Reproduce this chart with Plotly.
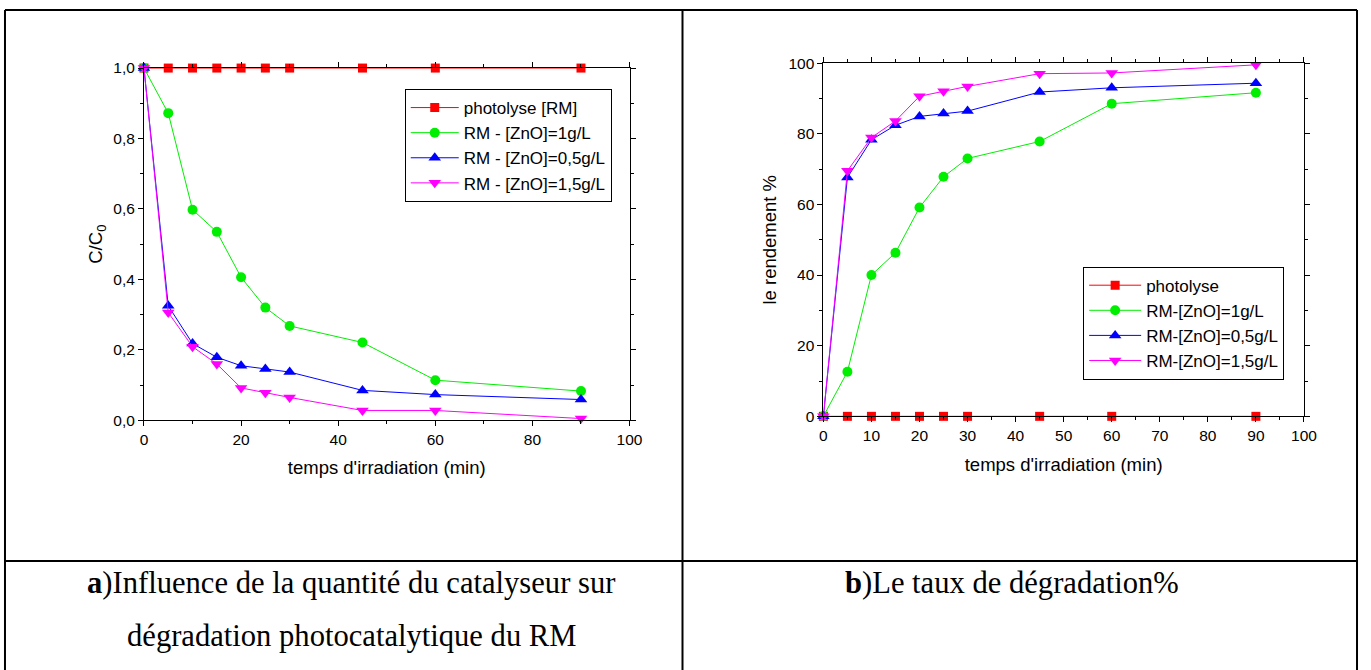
import plotly.graph_objects as go

# Irradiation time (min)
temps = [0, 5, 10, 15, 20, 25, 30, 45, 60, 90]

# (a) C/C0 versus time
cc0_photolyse = [1.0, 1.0, 1.0, 1.0, 1.0, 1.0, 1.0, 1.0, 1.0, 1.0]
cc0_zno_1 = [1.0, 0.872, 0.598, 0.535, 0.406, 0.320, 0.268, 0.221, 0.114, 0.083]
cc0_zno_05 = [1.0, 0.325, 0.218, 0.179, 0.155, 0.146, 0.137, 0.085, 0.073, 0.059]
cc0_zno_15 = [1.0, 0.306, 0.209, 0.160, 0.092, 0.078, 0.065, 0.028, 0.028, 0.005]

# (b) degradation yield (%) versus time
rend_photolyse = [0, 0, 0, 0, 0, 0, 0, 0, 0, 0]
rend_zno_1 = [0, 12.6, 40.0, 46.3, 59.1, 67.8, 73.0, 77.8, 88.5, 91.6]
rend_zno_05 = [0, 67.6, 78.3, 82.4, 84.9, 85.7, 86.4, 91.8, 93.0, 94.3]
rend_zno_15 = [0, 69.5, 78.9, 83.6, 90.6, 92.0, 93.4, 97.0, 97.2, 99.5]

names_a = ["photolyse [RM]", "RM - [ZnO]=1g/L", "RM - [ZnO]=0,5g/L", "RM - [ZnO]=1,5g/L"]
names_b = ["photolyse", "RM-[ZnO]=1g/L", "RM-[ZnO]=0,5g/L", "RM-[ZnO]=1,5g/L"]

colors = ["#ff0000", "#00ee00", "#0000ff", "#ff00ff"]
symbols = ["square", "circle", "triangle-up", "triangle-down"]
msizes = [9, 10, 11, 11]

# The page keeps the browser's 8px body margin around the figure and the
# whole page is fitted into the window, so layout positions are expressed
# in window pixels and converted to figure (paper) coordinates here.
W, H, BODY = 1371, 670, 8
PAGE_W, PAGE_H = W + 2 * BODY, H + 2 * BODY
FONT = "Liberation Sans, Arial, sans-serif"
SERIF = "Liberation Serif, Times New Roman, serif"


def fig_x(x):
    return min(max(x * PAGE_W / W - BODY, 1), W - 1)


def fig_y(y):
    return min(max(y * PAGE_H / H - BODY, 1), H + 10)


def px(x):
    return fig_x(x) / W


def py(y):
    return 1 - fig_y(y) / H


fig = go.Figure()

series_a = [cc0_photolyse, cc0_zno_1, cc0_zno_05, cc0_zno_15]
series_b = [rend_photolyse, rend_zno_1, rend_zno_05, rend_zno_15]

for i in range(4):
    fig.add_trace(go.Scatter(
        x=temps, y=series_a[i], name=names_a[i], mode="lines+markers",
        line=dict(color=colors[i], width=1),
        marker=dict(symbol=symbols[i], size=msizes[i], color=colors[i]),
        xaxis="x", yaxis="y", legend="legend", cliponaxis=False,
    ))
for i in range(4):
    fig.add_trace(go.Scatter(
        x=temps, y=series_b[i], name=names_b[i], mode="lines+markers",
        line=dict(color=colors[i], width=1),
        marker=dict(symbol=symbols[i], size=msizes[i], color=colors[i]),
        xaxis="x2", yaxis="y2", legend="legend2", cliponaxis=False,
    ))

axis_common = dict(
    showline=True, linecolor="black", linewidth=1, mirror="ticks",
    ticks="outside", ticklen=5, tickcolor="black", tickwidth=1,
    showgrid=False, zeroline=False,
    tickfont=dict(family=FONT, size=15.5, color="black"),
)
title_font = dict(family=FONT, size=18.5, color="black")
legend_font = dict(family=FONT, size=17, color="black")

fig.update_layout(
    width=W, height=H,
    margin=dict(l=0, r=0, t=0, b=0),
    paper_bgcolor="white", plot_bgcolor="white",
    separators=", ",
    showlegend=True,
    xaxis=dict(axis_common, domain=[px(148), px(634)], range=[0, 100], dtick=20,
               minor=dict(dtick=10, ticks="outside", ticklen=3, tickcolor="black"),
               anchor="y",
               title=dict(text="temps d'irradiation (min)", standoff=14, font=title_font)),
    yaxis=dict(axis_common, domain=[py(420), py(67)], range=[0, 1], dtick=0.2,
               tickformat=".1f", anchor="x",
               minor=dict(dtick=0.1, ticks="outside", ticklen=3, tickcolor="black"),
               title=dict(text="C/C<sub>0</sub>", standoff=5, font=title_font)),
    xaxis2=dict(axis_common, domain=[px(828), px(1309)], range=[0, 100], dtick=10,
                minor=dict(dtick=5, ticks="outside", ticklen=3, tickcolor="black"),
                anchor="y2",
                title=dict(text="temps d'irradiation (min)", standoff=15, font=title_font)),
    yaxis2=dict(axis_common, domain=[py(416), py(62)], range=[0, 100], dtick=20,
                anchor="x2",
                minor=dict(dtick=10, ticks="outside", ticklen=3, tickcolor="black"),
                title=dict(text="le rendement %", standoff=6, font=title_font)),
    legend=dict(x=px(409), y=py(88), xanchor="left", yanchor="top",
                bordercolor="black", borderwidth=1, bgcolor="white",
                font=legend_font, itemwidth=48, tracegroupgap=0),
    legend2=dict(x=px(1088), y=py(266), xanchor="left", yanchor="top",
                 bordercolor="black", borderwidth=1, bgcolor="white",
                 font=legend_font, itemwidth=52, tracegroupgap=0),
)

# table frame around the two panels and their captions
line = dict(color="black", width=2)
top, left, mid, right, sep, bottom = 5, 6, 687, 1367, 561, 680
shapes = [
    dict(type="line", xref="paper", yref="paper", x0=px(left), x1=px(right), y0=py(top), y1=py(top), line=line),
    dict(type="line", xref="paper", yref="paper", x0=px(left), x1=px(left), y0=py(top), y1=py(bottom), line=line),
    dict(type="line", xref="paper", yref="paper", x0=px(mid), x1=px(mid), y0=py(top), y1=py(bottom), line=line),
    dict(type="line", xref="paper", yref="paper", x0=px(right), x1=px(right), y0=py(top), y1=py(bottom), line=line),
    dict(type="line", xref="paper", yref="paper", x0=px(left), x1=px(right), y0=py(sep), y1=py(sep), line=line),
]
fig.update_layout(shapes=shapes)

cap_font = dict(family=SERIF, size=30.6, color="black")
captions = [
    (355, 583, "<b>a</b>)Influence de la quantité du catalyseur sur"),
    (356, 636, "dégradation photocatalytique du RM"),
    (1017, 583, "<b>b</b>)Le taux de dégradation%"),
]
for cx, cy, txt in captions:
    fig.add_annotation(x=px(cx), y=py(cy), xref="paper", yref="paper",
                       text=txt, showarrow=False, font=cap_font,
                       xanchor="center", yanchor="middle")

fig.write_html("out.html")
